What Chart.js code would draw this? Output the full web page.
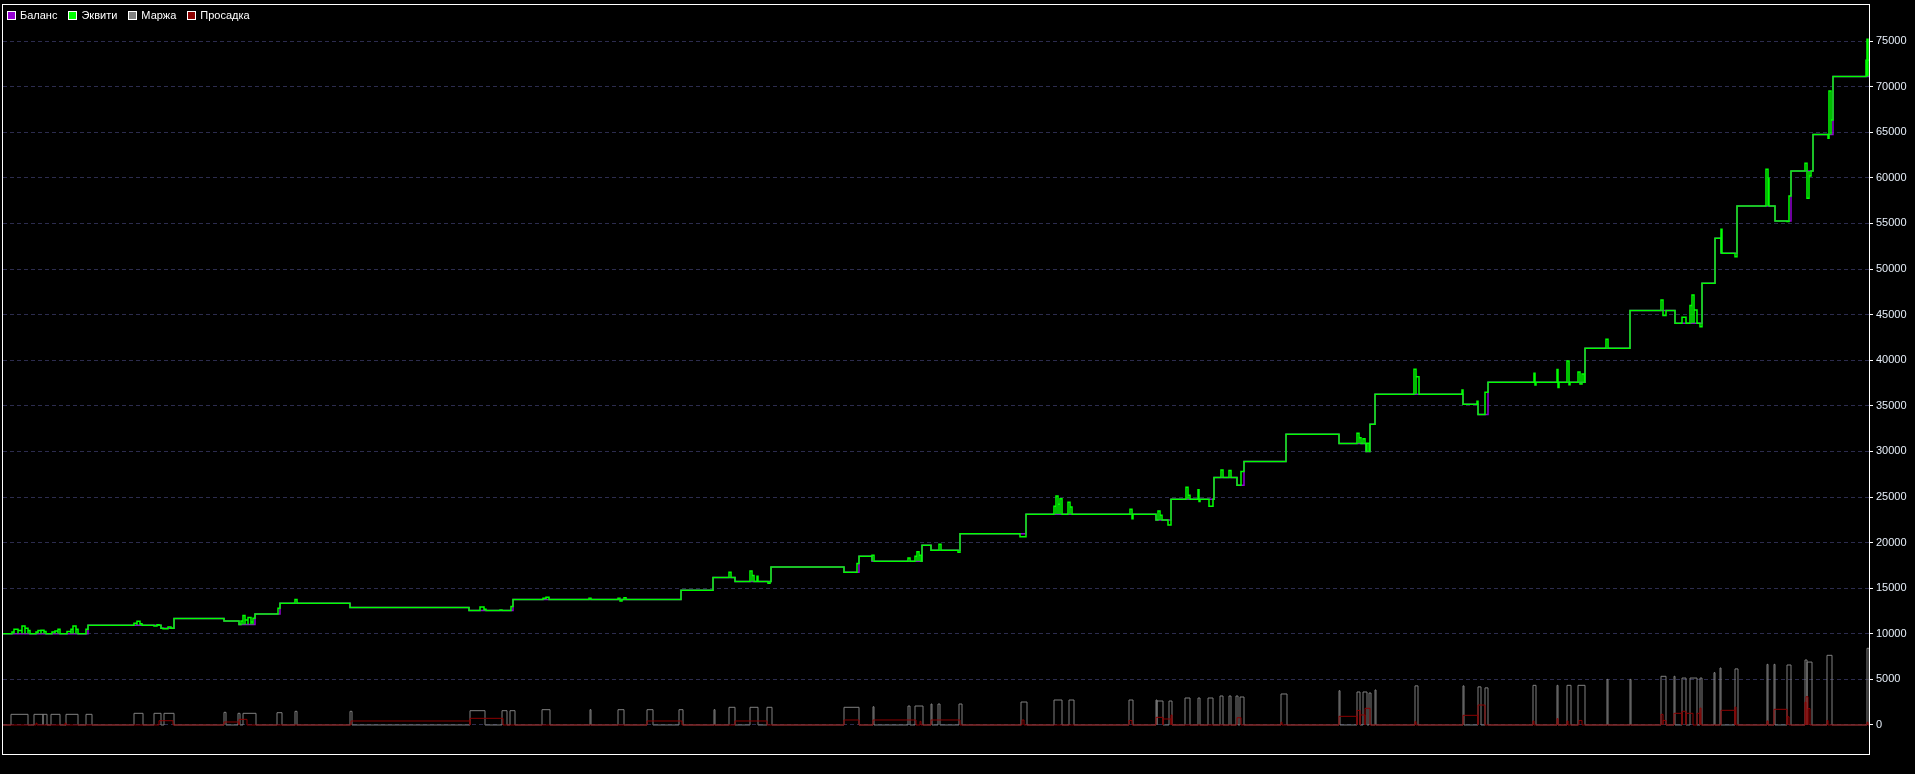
<!DOCTYPE html>
<html>
<head>
<meta charset="utf-8">
<title>Баланс / Эквити</title>
<script src="https://cdn.jsdelivr.net/npm/chart.js@4.4.1/dist/chart.umd.min.js"></script>
<style>
    html, body { margin: 0; padding: 0; background: #000; }
    #wrap { position: relative; width: 1915px; height: 774px; }
    canvas { display: block; }
    #legend {
        position: absolute; left: 7px; top: 9px;
        display: flex; gap: 11px;
        font: 11px "Liberation Sans", Arial, sans-serif; color: #fff;
        line-height: 13px;
    }
    #legend span { display: flex; align-items: center; }
    #legend i {
        display: inline-block; width: 7px; height: 7px;
        border: 1px solid #fff; margin-right: 4px;
    }
</style>
</head>
<body>
<div id="wrap">
    <canvas id="chart" width="1915" height="774"></canvas>
    <div id="legend"></div>
</div>
<script>
// шкала времени: условные позиции сделок 3..1869
const xStart = 3;
const xEnd = 1869;

// баланс: ступени [позиция, значение]
const balanceSteps = [
    [3, 10000], [88, 10930], [161, 10600], [174, 11690], [224, 11400], [239, 11010],
    [255, 12170], [280, 13340], [350, 12880], [469, 12550], [513, 13770], [681, 14770],
    [713, 16180], [735, 15740], [771, 17320], [844, 16740], [859, 18500], [872, 17950],
    [922, 19700], [931, 19150], [960, 20980], [1026, 23100], [1156, 22480], [1171, 24750],
    [1214, 27140], [1237, 26280], [1244, 28900], [1286, 31870], [1339, 30870], [1366, 30000],
    [1370, 32970], [1375, 36260], [1463, 35160], [1478, 34060], [1488, 37570], [1585, 41300],
    [1630, 45460], [1675, 44050], [1702, 48430], [1715, 53370], [1721, 51720], [1737, 56900],
    [1775, 55270], [1791, 60750], [1813, 64760], [1833, 71120], [1869, 71120]
];

// эквити: отклонения от баланса [начало, конец, значение]
const equitySwings = [
    [12, 14, 10200], [14, 18, 10490], [18, 22, 10350], [22, 25, 10860], [25, 28, 10600], [28, 30, 10350],
    [36, 38, 10200], [38, 41, 10350], [41, 44, 10390], [44, 46, 10250],
    [52, 55, 10200], [55, 58, 10300], [58, 60, 10490],
    [67, 71, 10250], [71, 73, 10500], [73, 76, 10860], [76, 78, 10490], [86, 88, 10500],
    [134, 137, 11150], [137, 140, 11370], [140, 142, 11100],
    [154, 157, 10850], [157, 159, 11000], [163, 168, 10550], [168, 171, 10750],
    [241, 243, 11400], [243, 245, 12000], [245, 248, 11500], [248, 251, 11800], [251, 253, 11300], [253, 255, 11700],
    [278, 280, 12800], [295, 297, 13750],
    [480, 484, 12950], [484, 486, 12700], [500, 502, 12600], [511, 513, 13000],
    [543, 546, 13900], [546, 549, 14000], [589, 591, 13900], [618, 620, 13900], [620, 622, 13600], [624, 626, 13950],
    [729, 731, 16740], [750, 752, 16890], [752, 754, 16400], [757, 758, 16300], [768, 770, 15540],
    [857, 859, 17700], [872, 874, 18600],
    [908, 910, 18310], [915, 917, 18500], [917, 919, 19000], [919, 921, 18600],
    [939, 941, 19810], [958, 960, 18940], [1020, 1026, 20650],
    [1054, 1056, 24000], [1056, 1058, 25110], [1058, 1060, 24200], [1060, 1062, 24800],
    [1068, 1070, 24420], [1070, 1072, 23900], [1130, 1132, 23650], [1132, 1133, 22620],
    [1158, 1160, 23460], [1160, 1162, 23000], [1168, 1171, 21930],
    [1186, 1188, 26060], [1188, 1190, 25200], [1198, 1199, 25800], [1199, 1200, 24500],
    [1209, 1213, 24000], [1221, 1223, 27960], [1229, 1231, 27900], [1241, 1244, 27800],
    [1357, 1359, 31980], [1359, 1361, 31500], [1363, 1365, 31400], [1367, 1369, 30900],
    [1414, 1416, 39000], [1416, 1419, 38200], [1462, 1463, 36730], [1477, 1478, 35500], [1485, 1488, 36500],
    [1534, 1535, 38560], [1535, 1536, 37280], [1557, 1558, 38990], [1558, 1559, 37000],
    [1567, 1569, 39910], [1569, 1570, 37300], [1578, 1580, 38700], [1580, 1582, 37400], [1582, 1584, 38500],
    [1606, 1608, 42290], [1661, 1663, 46600], [1663, 1666, 44900], [1682, 1686, 44700],
    [1690, 1692, 46000], [1692, 1694, 47150], [1694, 1697, 45500], [1700, 1702, 43680],
    [1721, 1722, 54350], [1735, 1737, 51350], [1766, 1768, 60930], [1768, 1769, 59950],
    [1787, 1789, 55200], [1789, 1791, 58000],
    [1805, 1807, 61590], [1807, 1809, 57750], [1809, 1811, 60200],
    [1828, 1829, 64330], [1829, 1831, 69520], [1831, 1833, 66340],
    [1866, 1867, 72900], [1867, 1868, 75190], [1868, 1870, 72900]
];

// маржа: [начало, конец, значение]
const marginPulses = [
    [11, 28, 1170], [34, 43, 1170], [43, 47, 1170], [51, 60, 1170], [66, 78, 1170], [86, 92, 1170],
    [134, 143, 1280], [154, 161, 1280], [164, 174, 1280], [224, 226, 1390], [238, 240, 1280], [243, 256, 1280],
    [277, 282, 1350], [295, 297, 1500], [350, 352, 1500], [470, 485, 1570], [502, 507, 1570], [510, 515, 1570],
    [542, 550, 1680], [590, 591, 1680], [618, 624, 1680], [647, 653, 1680], [679, 683, 1680], [714, 715, 1680],
    [729, 735, 1940], [750, 758, 1940], [767, 772, 1940], [844, 859, 1940], [873, 874, 2000],
    [908, 910, 2080], [915, 923, 2080], [931, 932, 2300], [938, 940, 2300], [959, 962, 2300],
    [1021, 1027, 2520], [1054, 1062, 2740], [1069, 1074, 2740], [1129, 1133, 2740], [1156, 1157, 2740],
    [1157, 1163, 2630], [1169, 1172, 2630], [1185, 1190, 2960], [1198, 1200, 2960], [1208, 1213, 2960],
    [1220, 1223, 3180], [1229, 1231, 3180], [1236, 1238, 3180], [1240, 1244, 3070], [1281, 1287, 3400],
    [1339, 1340, 3760], [1357, 1360, 3620], [1363, 1367, 3620], [1369, 1371, 3510], [1375, 1376, 3840],
    [1415, 1418, 4290], [1463, 1464, 4290], [1478, 1481, 4180], [1485, 1488, 4070],
    [1533, 1536, 4350], [1557, 1558, 4350], [1567, 1571, 4350], [1578, 1585, 4350],
    [1607, 1608, 5000], [1630, 1631, 5000], [1661, 1666, 5340], [1674, 1675, 5340],
    [1682, 1686, 5150], [1690, 1697, 5150], [1700, 1702, 5150], [1714, 1715, 5740], [1720, 1721, 6250],
    [1735, 1738, 6150], [1767, 1768, 6650], [1774, 1775, 6650], [1787, 1791, 6580],
    [1805, 1807, 7130], [1807, 1812, 6900], [1827, 1832, 7640], [1867, 1869, 8410]
];

// просадка: [начало, конец, значение]
const drawdownSegments = [
    [36, 37, 200], [65, 66, 200], [159, 173, 470], [224, 239, 330], [239, 247, 620],
    [351, 470, 440], [470, 503, 730], [647, 682, 440], [735, 767, 440], [844, 859, 550],
    [873, 916, 550], [920, 921, 400], [931, 960, 550], [1022, 1024, 550], [1129, 1132, 500],
    [1156, 1163, 840], [1163, 1171, 660], [1171, 1172, 1100], [1237, 1241, 800], [1281, 1282, 300],
    [1339, 1357, 950], [1357, 1360, 1600], [1360, 1365, 1100], [1365, 1370, 1830], [1415, 1416, 370],
    [1463, 1478, 1060], [1478, 1485, 2190], [1533, 1534, 440], [1557, 1558, 690], [1567, 1568, 440],
    [1579, 1582, 500], [1661, 1663, 1170], [1663, 1666, 500], [1674, 1682, 1280], [1682, 1686, 1500],
    [1686, 1693, 1280], [1697, 1700, 1280], [1700, 1701, 1860], [1721, 1735, 1610], [1735, 1736, 1970],
    [1767, 1768, 440], [1774, 1787, 1720], [1787, 1789, 900], [1805, 1806, 2500], [1806, 1808, 3100],
    [1808, 1810, 1800], [1827, 1828, 500], [1867, 1868, 300]
];

const seriesNames = ['Баланс', 'Эквити', 'Маржа', 'Просадка'];
const seriesColors = ['#9400d3', '#00ff00', '#808080', '#8b0000'];

const yTicks = [0, 5000, 10000, 15000, 20000, 25000, 30000, 35000,
    40000, 45000, 50000, 55000, 60000, 65000, 70000, 75000];
const yMin = -3180;
const yMax = 78950;

function balanceAt(x) {
    let v = balanceSteps[0][1];
    for (const [bx, by] of balanceSteps) {
        if (bx <= x) v = by;
    }
    return v;
}

function buildBalance() {
    return balanceSteps.map(([x, y]) => ({x, y}));
}

function buildEquity() {
    const pts = [];
    for (const [bx, by] of balanceSteps) {
        const inside = equitySwings.some(([s, e]) => bx > s && bx < e);
        if (!inside) pts.push({x: bx, y: by});
    }
    for (const [s, e, v] of equitySwings) {
        pts.push({x: s, y: v});
        pts.push({x: e, y: balanceAt(e)});
    }
    pts.sort((a, b) => a.x - b.x);
    return pts;
}

function buildPulses(list) {
    const pts = [{x: xStart, y: 0}];
    for (const [s, e, v] of list) {
        pts.push({x: s, y: v});
        pts.push({x: e, y: 0});
    }
    pts.push({x: xEnd, y: 0});
    return pts;
}

const framePlugin = {
    id: 'frame',
    beforeDraw(chart) {
        const ctx = chart.ctx;
        ctx.save();
        ctx.fillStyle = '#000';
        ctx.fillRect(0, 0, chart.width, chart.height);
        ctx.restore();
    },
    afterDraw(chart) {
        const {left, top, right, bottom} = chart.chartArea;
        const ctx = chart.ctx;
        ctx.save();
        ctx.strokeStyle = '#ffffff';
        ctx.lineWidth = 1;
        ctx.strokeRect(Math.round(left) - 0.5, Math.round(top) - 0.5,
            Math.round(right - left) + 1, Math.round(bottom - top) + 1);
        ctx.restore();
    }
};

function makeDataset(i, data, width, order) {
    return {
        label: seriesNames[i],
        data: data,
        borderColor: seriesColors[i],
        backgroundColor: seriesColors[i],
        borderWidth: width,
        pointRadius: 0,
        stepped: 'before',
        fill: false,
        order: order,
    };
}

const chart = new Chart(document.getElementById('chart'), {
    type: 'line',
    data: {
        datasets: [
            makeDataset(0, buildBalance(), 1.5, 2),
            makeDataset(1, buildEquity(), 1.5, 1),
            makeDataset(2, buildPulses(marginPulses), 1, 4),
            makeDataset(3, buildPulses(drawdownSegments), 1, 3),
        ]
    },
    options: {
        responsive: false,
        animation: false,
        layout: {
            padding: {left: 3, top: 5, right: 0, bottom: 20}
        },
        scales: {
            x: {
                type: 'linear',
                min: xStart,
                max: xEnd,
                display: false,
            },
            y: {
                position: 'right',
                min: yMin,
                max: yMax,
                afterBuildTicks(scale) {
                    scale.ticks = yTicks.map(v => ({value: v}));
                },
                afterFit(scale) {
                    scale.width = 46;
                    scale.paddingTop = 0;
                    scale.paddingBottom = 0;
                },
                ticks: {
                    color: '#e6eef8',
                    padding: 3,
                    font: {family: 'Liberation Sans', size: 11},
                    callback: v => String(v),
                },
                grid: {
                    color: '#2c2c4e',
                    tickColor: '#ffffff',
                    tickLength: 4,
                },
                border: {
                    display: false,
                    dash: [4, 3],
                },
            },
        },
        plugins: {
            legend: {display: false},
            tooltip: {enabled: false},
        },
    },
    plugins: [framePlugin],
});

// легенда сверху слева внутри рамки
const legend = document.getElementById('legend');
seriesNames.forEach((name, i) => {
    const item = document.createElement('span');
    const box = document.createElement('i');
    box.style.background = seriesColors[i];
    item.appendChild(box);
    item.appendChild(document.createTextNode(name));
    legend.appendChild(item);
});
</script>
</body>
</html>
